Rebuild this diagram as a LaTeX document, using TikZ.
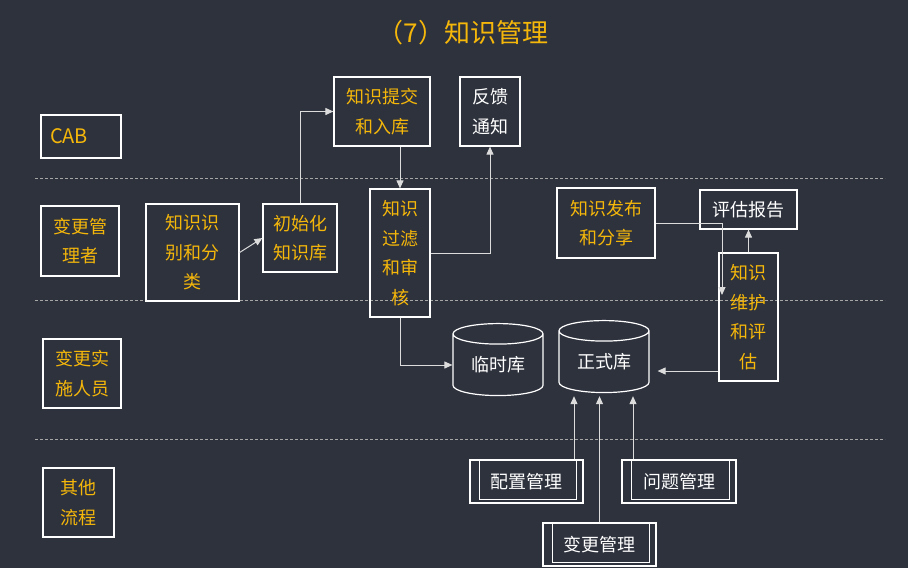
\documentclass[tikz,border=0pt]{standalone}
\usepackage{fontspec}
\setmainfont{Noto Sans CJK SC}
\usepackage{xcolor}
\usepackage{tikz}
\usetikzlibrary{arrows.meta, positioning, calc, shapes.geometric}
\definecolor{bgdark}{HTML}{2E323D}
\definecolor{kmyellow}{HTML}{F5B70A}
\definecolor{lineg}{HTML}{DCDCDC}

\begin{document}
\begin{tikzpicture}[x=1pt, y=-1pt,
    box/.style={rectangle, draw=white, line width=1.2pt, text=kmyellow, align=center, font=\fontsize{18}{29.5}\selectfont, inner sep=0pt},
    wbox/.style={box, text=white},
    db/.style={cylinder, shape border rotate=90, aspect=0.38, draw=white, line width=1.2pt, text=white, font=\fontsize{18}{29.5}\selectfont, minimum width=90pt, minimum height=72pt, inner sep=0pt},
    dbox/.style={wbox, append after command={
        \pgfextra{\draw[white, line width=1.1pt] ([xshift=10pt]\tikzlastnode.north west) rectangle ([xshift=-7pt,yshift=4pt]\tikzlastnode.south east);}}},
    lane/.style={draw=gray!70, dashed, dash pattern=on 3pt off 2pt, line width=0.8pt},
    arr/.style={draw=lineg, line width=1pt, -{Triangle[length=8pt, width=7pt]}}]

    \fill[bgdark] (0,0) rectangle (908,568);

    \node[text=kmyellow, font=\fontsize{26}{30}\selectfont] (title) at (463,33) {（7）知识管理};

    \foreach \ly in {178, 300, 439}
        \draw[lane] (35,\ly) -- (885,\ly);

    % roles
    \node[box, minimum width=80pt, minimum height=43pt, text width=62pt, align=left, font=\fontsize{20}{24}\selectfont] (cab) at (81,136.5) {CAB};
    \node[box, minimum width=78pt, minimum height=70pt] (mgr) at (80,241) {变更管\\理者};
    \node[box, minimum width=78pt, minimum height=69pt] (impl) at (82,373.5) {变更实\\施人员};
    \node[box, minimum width=71pt, minimum height=69pt] (other) at (78.5,502.5) {其他\\流程};

    % steps
    \node[box, minimum width=93pt, minimum height=97pt] (ident) at (192.5,252.5) {知识识\\别和分\\类};
    \node[box, minimum width=74pt, minimum height=68pt] (init) at (300,238) {初始化\\知识库};
    \node[box, minimum width=96pt, minimum height=69pt] (submit) at (382,111.5) {知识提交\\和入库};
    \node[wbox, minimum width=60pt, minimum height=69pt] (feedback) at (490,111.5) {反馈\\通知};
    \node[box, minimum width=60pt, minimum height=128pt] (filter) at (400,253) {知识\\过滤\\和审\\核};
    \node[box, minimum width=98pt, minimum height=70pt] (publish) at (606,223) {知识发布\\和分享};
    \node[wbox, minimum width=97pt, minimum height=39pt] (report) at (748.5,209.5) {评估报告};
    \node[box, minimum width=59pt, minimum height=128pt] (maintain) at (748.5,317) {知识\\维护\\和评\\估};

    % stores
    \node[db] (tmp) at (498,365) {临时库};
    \node[db] (formal) at (604,362) {正式库};

    % other processes
    \node[dbox, minimum width=113pt, minimum height=43pt] (cfg) at (526.5,481.5) {配置管理};
    \node[dbox, minimum width=114pt, minimum height=43pt] (prob) at (679,481.5) {问题管理};
    \node[dbox, minimum width=113pt, minimum height=43pt] (chg) at (599.5,544.5) {变更管理};

    \coordinate (pubend) at (722,295);

    \draw[arr] (ident.east) -- (init.west);
    \draw[arr] (init.north) |- (submit.west);
    \draw[arr] (submit.south -| filter.north) -- (filter.north);
    \draw[arr] (filter.east) -| (feedback.south);
    \draw[arr] (filter.south) |- (tmp.west);
    \draw[arr] (publish.east) -| (pubend);
    \draw[arr] (maintain.north) -- (report.south);
    \draw[arr, shorten >=8pt] ([yshift=-54pt]maintain.west) -- ([yshift=-54pt]maintain.west -| formal.east);
    \draw[arr, shorten >=3pt] ([xshift=47.5pt]cfg.north) -- ([xshift=47.5pt]cfg.north |- formal.south);
    \draw[arr, shorten >=3pt] (chg.north) -- (chg.north |- formal.south);
    \draw[arr, shorten >=3pt] ([xshift=-46pt]prob.north) -- ([xshift=-46pt]prob.north |- formal.south);
\end{tikzpicture}
\end{document}
